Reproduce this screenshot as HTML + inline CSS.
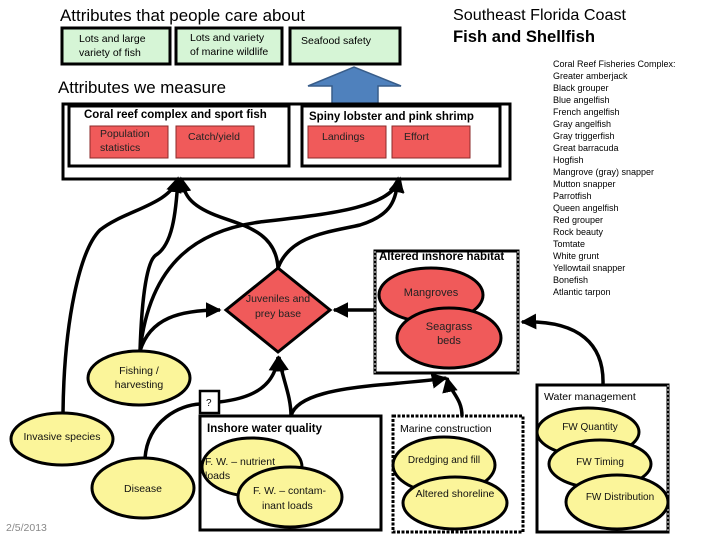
<!DOCTYPE html>
<html><head><meta charset="utf-8"><style>
html,body{margin:0;padding:0;background:#fff;}
svg{display:block;}
text{font-family:"Liberation Sans",sans-serif;}
.n{font-family:"Liberation Sans Narrow","Liberation Sans",sans-serif;}
</style></head><body>
<svg width="720" height="540" viewBox="0 0 720 540" xmlns="http://www.w3.org/2000/svg">
<defs>
<marker id="a" viewBox="0 0 10 10" refX="9" refY="5" markerWidth="4.5" markerHeight="4.5" orient="auto-start-reverse" markerUnits="strokeWidth">
<path d="M0,0 L10,5 L0,10 z" fill="#000"/></marker>
</defs>

<!-- Titles -->
<text x="60" y="21" font-size="16.5" fill="#000" textLength="245" lengthAdjust="spacingAndGlyphs">Attributes that people care about</text>
<text x="453" y="20" font-size="16" fill="#000" textLength="173" lengthAdjust="spacingAndGlyphs">Southeast Florida Coast</text>
<text x="453" y="42" font-size="17" font-weight="bold" fill="#000" textLength="142" lengthAdjust="spacingAndGlyphs">Fish and Shellfish</text>
<text x="58" y="93" font-size="16.5" fill="#000" textLength="168" lengthAdjust="spacingAndGlyphs">Attributes we measure</text>

<!-- Green boxes -->
<g stroke="#000" stroke-width="3" fill="#d6f5d6">
<rect x="62" y="28" width="108" height="36"/>
<rect x="176" y="28" width="106" height="36"/>
<rect x="290" y="28" width="110" height="36"/>
</g>
<g font-size="10.5" fill="#000" class="n">
<text x="79" y="42">Lots and large</text><text x="79" y="56">variety of fish</text>
<text x="190" y="41">Lots and variety</text><text x="190" y="55">of marine wildlife</text>
<text x="301" y="44">Seafood safety</text>
</g>

<!-- Blue arrow -->
<polygon points="308,86 354,67 401,86 378,86 378,104 332,104 332,86" fill="#4f81bd" stroke="#385d8a" stroke-width="1.5"/>

<!-- Measure boxes -->
<rect x="63" y="104" width="447" height="75" fill="none" stroke="#000" stroke-width="3"/>
<rect x="69" y="106" width="220" height="60" fill="#fff" stroke="#000" stroke-width="3"/>
<rect x="302" y="106" width="198" height="60" fill="#fff" stroke="#000" stroke-width="3"/>
<line x1="69" y1="106" x2="289" y2="106" stroke="#000" stroke-width="3" stroke-dasharray="2,1.5"/>
<line x1="302" y1="106" x2="500" y2="106" stroke="#000" stroke-width="3" stroke-dasharray="2,1.5"/>
<text x="84" y="118" font-size="11.5" font-weight="bold" fill="#000">Coral reef complex and sport fish</text>
<text x="309" y="120" font-size="11.5" font-weight="bold" fill="#000">Spiny lobster and pink shrimp</text>
<g fill="#f05a5a" stroke="#8b2a2a" stroke-width="1">
<rect x="90" y="126" width="78" height="32"/>
<rect x="176" y="126" width="78" height="32"/>
<rect x="308" y="126" width="78" height="32"/>
<rect x="392" y="126" width="78" height="32"/>
</g>
<g font-size="10.5" fill="#222" class="n">
<text x="100" y="137">Population</text><text x="100" y="151">statistics</text>
<text x="188" y="140">Catch/yield</text>
<text x="322" y="140">Landings</text>
<text x="404" y="140">Effort</text>
</g>

<!-- Species list -->
<g font-size="9" fill="#000" class="n">
<text x="553" y="67">Coral Reef Fisheries Complex:</text>
<text x="553" y="79">Greater amberjack</text>
<text x="553" y="91">Black grouper</text>
<text x="553" y="103">Blue angelfish</text>
<text x="553" y="115">French angelfish</text>
<text x="553" y="127">Gray angelfish</text>
<text x="553" y="139">Gray triggerfish</text>
<text x="553" y="151">Great barracuda</text>
<text x="553" y="163">Hogfish</text>
<text x="553" y="175">Mangrove (gray) snapper</text>
<text x="553" y="187">Mutton snapper</text>
<text x="553" y="199">Parrotfish</text>
<text x="553" y="211">Queen angelfish</text>
<text x="553" y="223">Red grouper</text>
<text x="553" y="235">Rock beauty</text>
<text x="553" y="247">Tomtate</text>
<text x="553" y="259">White grunt</text>
<text x="553" y="271">Yellowtail snapper</text>
<text x="553" y="283">Bonefish</text>
<text x="553" y="295">Atlantic tarpon</text>
</g>

<!-- Connectors -->
<g fill="none" stroke="#000" stroke-width="3.5">
<path d="M63,413 C64,320 80,250 100,230 C125,210 170,205 178,178" marker-end="url(#a)"/>
<path d="M140,351 C142,290 148,260 156,255 C172,245 176,215 178,178" marker-end="url(#a)"/>
<path d="M140,351 C150,260 200,230 260,222 C330,214 392,208 400,178" marker-end="url(#a)"/>
<path d="M140,351 C150,318 180,310 220,310" marker-end="url(#a)"/>
<path d="M278,268 C276,230 240,225 215,215 C190,205 184,195 181,178" marker-end="url(#a)"/>
<path d="M278,268 C290,235 330,232 360,225 C392,215 396,200 398,178" marker-end="url(#a)"/>
<path d="M374,310 L334,310" marker-end="url(#a)"/>
<path d="M145,458 C148,420 180,405 200,404"/>
<path d="M219,402 C255,398 275,385 278,357" marker-end="url(#a)"/>
<path d="M291,416 C291,395 282,378 279,357" marker-end="url(#a)"/>
<path d="M291,416 C296,395 340,388 390,384 C420,381 436,380 446,378" marker-end="url(#a)"/>
<path d="M462,416 C462,398 450,392 447,378" marker-end="url(#a)"/>
<path d="M603,384 C604,345 580,320 522,322" marker-end="url(#a)"/>
</g>

<!-- Diamond -->
<polygon points="278,268 330,310 278,352 226,310" fill="#f05a5a" stroke="#000" stroke-width="3"/>
<text x="278" y="302" font-size="10.5" text-anchor="middle" fill="#222" class="n">Juveniles and</text>
<text x="278" y="317" font-size="10.5" text-anchor="middle" fill="#222" class="n">prey base</text>

<!-- Altered habitat -->
<rect x="375" y="251" width="143" height="122" fill="#fff" stroke="#000" stroke-width="3"/>
<line x1="375" y1="251" x2="375" y2="373" stroke="#fff" stroke-width="1" stroke-dasharray="2,2"/>
<line x1="518" y1="251" x2="518" y2="373" stroke="#fff" stroke-width="1" stroke-dasharray="2,2"/>
<text x="379" y="260" font-size="11.5" font-weight="bold" fill="#000">Altered inshore habitat</text>
<ellipse cx="431" cy="295" rx="52" ry="27" fill="#f05a5a" stroke="#000" stroke-width="3"/>
<ellipse cx="449" cy="338" rx="52" ry="30" fill="#f05a5a" stroke="#000" stroke-width="3"/>
<text x="431" y="296" font-size="11" text-anchor="middle" fill="#222">Mangroves</text>
<text x="449" y="330" font-size="11" text-anchor="middle" fill="#222">Seagrass</text>
<text x="449" y="344" font-size="11" text-anchor="middle" fill="#222">beds</text>

<!-- Left ellipses -->
<g fill="#fbf59a" stroke="#000" stroke-width="3">
<ellipse cx="139" cy="378" rx="51" ry="27"/>
<ellipse cx="62" cy="439" rx="51" ry="26"/>
<ellipse cx="143" cy="488" rx="51" ry="30"/>
</g>
<g font-size="10.5" fill="#111" text-anchor="middle" class="n">
<text x="139" y="374">Fishing /</text><text x="139" y="388">harvesting</text>
<text x="62" y="440">Invasive species</text>
<text x="143" y="492">Disease</text>
</g>

<rect x="200" y="391" width="19" height="22" fill="#fff" stroke="#000" stroke-width="2.5"/>
<text x="206" y="406" font-size="10" fill="#000">?</text>

<!-- Inshore water quality -->
<rect x="200" y="416" width="181" height="114" fill="#fff" stroke="#000" stroke-width="3"/>
<text x="207" y="432" font-size="11.5" font-weight="bold" fill="#000">Inshore water quality</text>
<ellipse cx="252" cy="467" rx="50" ry="29" fill="#fbf59a" stroke="#000" stroke-width="3"/>
<ellipse cx="290" cy="497" rx="52" ry="30" fill="#fbf59a" stroke="#000" stroke-width="3"/>
<g font-size="10.5" fill="#111" class="n">
<text x="205" y="465">F. W. – nutrient</text><text x="205" y="479">loads</text>
<text x="253" y="494">F. W. – contam-</text><text x="262" y="509">inant loads</text>
</g>

<!-- Marine construction -->
<rect x="393" y="416" width="130" height="116" fill="#fff" stroke="#000" stroke-width="3" stroke-dasharray="3,1.5"/>
<text x="400" y="432" font-size="10.5" fill="#000" class="n">Marine construction</text>
<ellipse cx="444" cy="465" rx="51" ry="28" fill="#fbf59a" stroke="#000" stroke-width="3"/>
<ellipse cx="455" cy="503" rx="52" ry="26" fill="#fbf59a" stroke="#000" stroke-width="3"/>
<text x="444" y="463" font-size="10" text-anchor="middle" fill="#111" class="n">Dredging and fill</text>
<text x="455" y="497" font-size="10.5" text-anchor="middle" fill="#111" class="n">Altered shoreline</text>

<!-- Water management -->
<rect x="537" y="385" width="131" height="147" fill="#fff" stroke="#000" stroke-width="3"/>
<line x1="668" y1="385" x2="668" y2="532" stroke="#fff" stroke-width="1" stroke-dasharray="2,2"/>
<text x="544" y="400" font-size="10.5" fill="#000" class="n">Water management</text>
<ellipse cx="588" cy="432" rx="51" ry="24" fill="#fbf59a" stroke="#000" stroke-width="3"/>
<ellipse cx="600" cy="464" rx="51" ry="24" fill="#fbf59a" stroke="#000" stroke-width="3"/>
<ellipse cx="617" cy="502" rx="51" ry="27" fill="#fbf59a" stroke="#000" stroke-width="3"/>
<g font-size="10" fill="#111" text-anchor="middle" class="n">
<text x="590" y="430">FW Quantity</text>
<text x="600" y="465">FW Timing</text>
<text x="620" y="500">FW Distribution</text>
</g>

<text x="6" y="531" font-size="10.5" fill="#888" class="n">2/5/2013</text>
</svg>
</body></html>
